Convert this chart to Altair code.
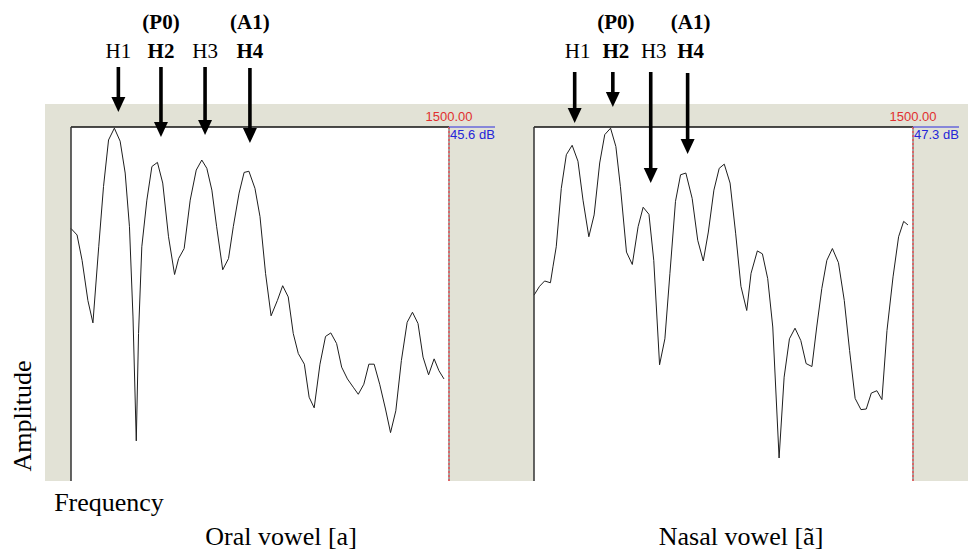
import altair as alt
import pandas as pd

# Spectrum slices (frequency in Hz, level in dB) up to the 1500 Hz cursor
oral_freq = [0, 24, 44, 67, 87, 110, 129, 149, 172, 195, 215, 232, 246, 259, 268,
             281, 301, 321, 343, 364, 387, 411, 427, 449, 473, 497, 519, 539, 559, 578,
             602, 625, 644, 667, 687, 706, 730, 750, 772, 794, 819, 840, 862, 882, 902,
             926, 945, 965, 988, 1010, 1031, 1054, 1074, 1097, 1120, 1140, 1162, 1182,
             1203, 1225, 1248, 1268, 1289, 1311, 1334, 1355, 1377, 1397, 1419, 1441,
             1460, 1480]
oral_db = [28.4, 27.3, 23.0, 16.2, 12.4, 25.3, 35.5, 43.4, 45.4, 43.2, 37.8, 28.7, 13.4,
           -7.6, 10.6, 25.3, 33.2, 38.9, 39.6, 36.1, 27.0, 20.6, 23.3, 25.0, 33.2, 38.3,
           40.0, 38.6, 34.9, 28.7, 21.4, 23.3, 28.7, 34.4, 37.9, 38.1, 35.2, 30.4, 20.8,
           13.6, 16.2, 18.7, 16.8, 10.6, 7.2, 5.4, -0.2, -2.0, 5.4, 10.1, 10.7, 8.9, 4.9,
           2.9, 1.5, 0.3, 2.0, 5.4, 5.4, 2.0, -2.2, -6.2, -2.5, 6.0, 12.5, 14.2, 12.3,
           6.6, 3.6, 6.3, 4.3, 2.9]

nasal_freq = [0, 22, 42, 65, 75, 88, 108, 128, 151, 174, 194, 217, 238, 260, 280, 303,
              324, 342, 366, 389, 412, 432, 455, 474, 497, 518, 538, 560, 580, 601, 626,
              648, 670, 690, 712, 733, 753, 776, 798, 819, 842, 859, 884, 904, 925, 945,
              970, 990, 1011, 1033, 1056, 1077, 1100, 1119, 1139, 1159, 1181, 1205, 1228,
              1249, 1271, 1294, 1315, 1335, 1357, 1377, 1397, 1421, 1443, 1463, 1480]
nasal_db = [18.8, 20.3, 21.2, 20.9, 23.6, 27.0, 36.9, 42.6, 44.2, 41.5, 34.9, 28.7, 32.4,
            41.2, 46.0, 47.1, 44.0, 37.2, 26.1, 24.0, 30.4, 33.7, 32.5, 24.7, 7.0, 11.4,
            22.5, 34.7, 39.2, 39.5, 35.2, 28.1, 24.6, 29.5, 36.6, 40.3, 41.0, 37.8, 29.3,
            20.3, 16.2, 22.5, 26.3, 25.8, 21.6, 13.4, -8.8, 4.9, 11.4, 13.2, 11.1, 7.2,
            6.7, 13.4, 19.9, 24.7, 26.7, 24.3, 17.9, 9.4, 1.3, -0.6, -0.5, 2.2, 2.6, 1.1,
            12.8, 21.9, 28.7, 31.3, 30.7]

# Cursor readings shown at the top right of each window
cursor_freq = 1500.0
oral_top_db = 45.6
nasal_top_db = 47.3
db_span = 60.0

# Harmonics marked with arrows
harm_labels = ["H1", "H2", "H3", "H4"]
harm_bold = [False, True, False, True]
oral_harm_freq = [188, 357, 532, 710]
nasal_harm_freq = [161, 312, 462, 608]
measure_labels = {"H2": "(P0)", "H4": "(A1)"}

panel_titles = ["Oral vowel [a]", "Nasal vowel [ã]"]

# ---- drawing styles / layout (pixels) ----
GRAY = "#e2e2d6"
SERIF = "Liberation Serif"
SANS = "Liberation Sans"
PLOT_TOP, PLOT_BOTTOM = 127, 481
ONE = pd.DataFrame({"k": [0]})


def panel(freq, db, top_db, harm_freq, x_range, arrow_top, arrow_tip, label_dx):
    xs = alt.Scale(domain=[0, cursor_freq], range=x_range, nice=False, zero=False)
    ys = alt.Scale(domain=[top_db - db_span, top_db], range=[PLOT_BOTTOM, PLOT_TOP],
                   nice=False, zero=False)
    x0, x1 = x_range
    layers = []

    # white plotting window
    layers.append(alt.Chart(ONE).mark_rect(color="white").encode(
        x=alt.value(x0), x2=alt.value(x1), y=alt.value(PLOT_TOP), y2=alt.value(PLOT_BOTTOM)))

    # spectrum trace
    spec = pd.DataFrame({"f": freq, "db": db})
    layers.append(alt.Chart(spec).mark_line(color="#1e1e1e", strokeWidth=1).encode(
        x=alt.X("f:Q", scale=xs, axis=None),
        y=alt.Y("db:Q", scale=ys, axis=None)))

    # window frame (top and left edges)
    layers.append(alt.Chart(ONE).mark_rule(color="#111111", strokeWidth=1.3).encode(
        x=alt.value(x0), x2=alt.value(x1), y=alt.value(PLOT_TOP)))
    layers.append(alt.Chart(ONE).mark_rule(color="#333333", strokeWidth=1.5).encode(
        x=alt.value(x0), y=alt.value(PLOT_TOP), y2=alt.value(PLOT_BOTTOM)))

    # cursor at the right edge
    cur = pd.DataFrame({"f": [cursor_freq],
                        "ftxt": [f"{cursor_freq:.2f}"],
                        "dbtxt": [f"{top_db:.1f} dB"]})
    cx = alt.X("f:Q", scale=xs, axis=None)
    layers.append(alt.Chart(cur).mark_rule(color="#8a8a8a", strokeWidth=1.5).encode(
        x=cx, y=alt.value(PLOT_TOP), y2=alt.value(PLOT_BOTTOM)))
    layers.append(alt.Chart(cur).mark_rule(color="#e8585a", strokeWidth=1.6,
                                           strokeDash=[2, 2]).encode(
        x=cx, y=alt.value(PLOT_TOP), y2=alt.value(PLOT_BOTTOM)))
    layers.append(alt.Chart(cur).mark_rule(color="#2b2bdc", strokeWidth=1).encode(
        x=cx, x2=alt.value(x1 + 46), y=alt.value(PLOT_TOP)))
    layers.append(alt.Chart(cur).mark_text(font=SANS, fontSize=13, color="#e0302f",
                                           align="center", baseline="middle").encode(
        x=cx, y=alt.value(117), text="ftxt:N"))
    layers.append(alt.Chart(cur).mark_text(font=SANS, fontSize=13, color="#2525d8",
                                           align="left", baseline="middle", dx=1).encode(
        x=cx, y=alt.value(135), text="dbtxt:N"))

    # harmonic arrows
    arr = pd.DataFrame({"f": harm_freq, "label": harm_labels, "bold": harm_bold,
                        "top": arrow_top, "tip": arrow_tip})
    arr["shaft_end"] = arr["tip"] - 9
    arr["head_c"] = arr["tip"] - 7.5
    arr["meas"] = [measure_labels.get(h, "") for h in harm_labels]
    ax = alt.X("f:Q", scale=xs, axis=None)
    layers.append(alt.Chart(arr).mark_rule(color="black", strokeWidth=3.6).encode(
        x=ax, y=alt.Y("top:Q", scale=None), y2="shaft_end:Q"))
    layers.append(alt.Chart(arr).mark_point(
        shape="M-0.93,-1L0.93,-1L0,1Z", filled=True, size=225, color="black",
        opacity=1, strokeWidth=0).encode(
        x=ax, y=alt.Y("head_c:Q", scale=None)))

    for weight, flag in (("normal", False), ("bold", True)):
        layers.append(alt.Chart(arr).transform_filter(
            alt.datum.bold == flag).mark_text(
            font=SERIF, fontSize=21, fontWeight=weight, color="black",
            align="center", baseline="middle", dx=label_dx).encode(
            x=ax, y=alt.value(52), text="label:N"))
    layers.append(alt.Chart(arr).transform_filter(
        alt.datum.meas != "").mark_text(
        font=SERIF, fontSize=21, fontWeight="bold", color="black",
        align="center", baseline="middle", dx=label_dx).encode(
        x=ax, y=alt.value(23), text="meas:N"))
    return layers


layers = [alt.Chart(ONE).mark_rect(color=GRAY).encode(
    x=alt.value(45), x2=alt.value(968), y=alt.value(104), y2=alt.value(PLOT_BOTTOM))]

layers += panel(oral_freq, oral_db, oral_top_db, oral_harm_freq, [71, 449],
                [67, 67, 67, 68], [112, 137, 135, 143], 0)
layers += panel(nasal_freq, nasal_db, nasal_top_db, nasal_harm_freq, [534, 913],
                [72, 72, 72, 73], [123, 107, 183, 154], 3)

# axis names and panel captions
captions = pd.DataFrame({
    "text": ["Frequency", panel_titles[0], panel_titles[1]],
    "x": [109, 281, 741],
    "y": [503, 537, 537],
})
layers.append(alt.Chart(captions).mark_text(
    font=SERIF, fontSize=26, color="black", align="center", baseline="middle").encode(
    x=alt.X("x:Q", scale=None), y=alt.Y("y:Q", scale=None), text="text:N"))
layers.append(alt.Chart(pd.DataFrame({"text": ["Amplitude"]})).mark_text(
    font=SERIF, fontSize=26, color="black", align="center", baseline="middle",
    angle=270).encode(x=alt.value(23), y=alt.value(416), text="text:N"))

chart = alt.layer(*layers).resolve_scale(
    x="independent", y="independent"
).properties(
    width=968, height=555, padding=0, background="white",
    autosize=alt.AutoSizeParams(type="none"),
).configure_view(stroke=None)

chart.save("out.html", embed_options={"renderer": "svg", "actions": False})
